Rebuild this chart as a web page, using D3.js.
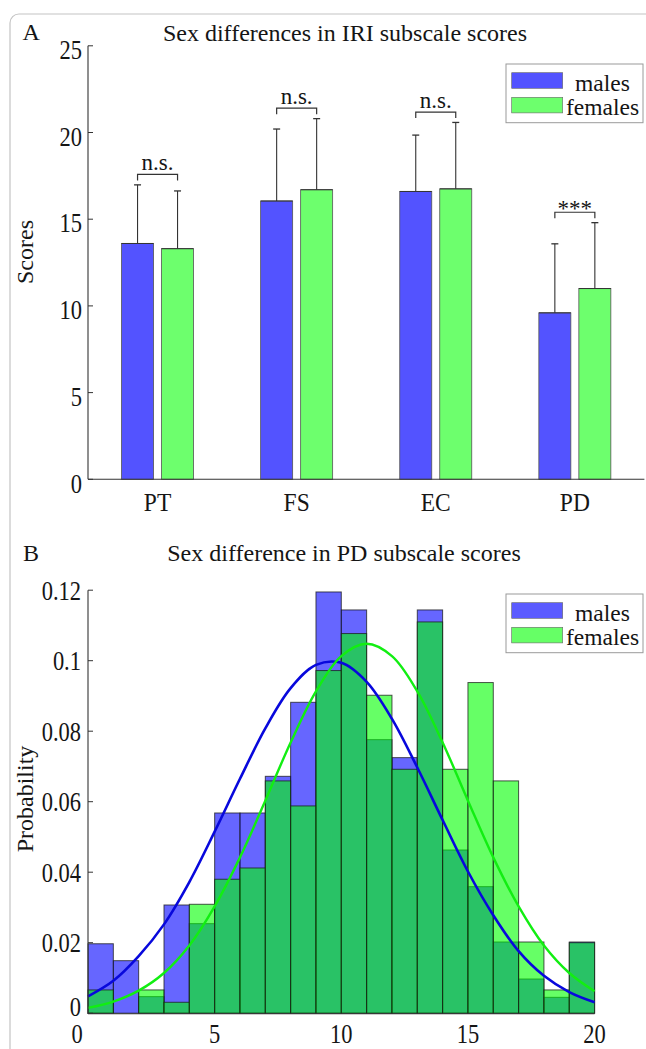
<!DOCTYPE html>
<html><head><meta charset="utf-8">
<script src="https://cdn.jsdelivr.net/npm/d3@7"></script>
<style>
body{margin:0;background:#fff}
svg{display:block}
text{font-family:"Liberation Serif","Times New Roman","DejaVu Serif",serif;fill:#151515}
</style>
</head><body>
<svg id="c" width="646" height="1049" font-family="Liberation Serif, serif"></svg>
<script>
// ---------- Panel A data ----------
const categories = ["PT", "FS", "EC", "PD"];
const groups = ["males", "females"];
const maleMeans = [13.6, 16.05, 16.6, 9.6];
const femaleMeans = [13.3, 16.7, 16.75, 11.0];
const maleSD = [3.38, 4.15, 3.25, 3.98];
const femaleSD = [3.33, 4.1, 3.83, 3.8];
const significance = ["n.s.", "n.s.", "n.s.", "***"];
const yTicksA = [0, 5, 10, 15, 20, 25];

// ---------- Panel B data ----------
const binStarts = [0,1,2,3,4,5,6,7,8,9,10,11,12,13,14,15,16,17,18,19];
const maleProb = [0.0197,0.0149,0.0047,0.0307,0.0254,0.0568,0.0568,0.0672,0.0882,0.1195,
                  0.1144,0.0776,0.0725,0.1144,0.0463,0.0359,0.0202,0.0097,0.0045,0.0202];
const femaleProb = [0.0066,0.0,0.0066,0.0031,0.0309,0.0380,0.0412,0.0659,0.0588,0.0972,
                    0.1077,0.0902,0.0692,0.1110,0.0692,0.0938,0.0659,0.0202,0.0066,0.0200];
const fitX = [0,1,2,3,4,5,6,7,8,9,10,11,12,13,14,15,16,17,18,19,20];
const maleFit = [0.0048,0.0092,0.0162,0.0252,0.0372,0.0515,0.0665,0.0808,0.0922,0.0988,0.0994,
                 0.0940,0.0835,0.0697,0.0548,0.0402,0.0278,0.0176,0.0106,0.0060,0.0031];
const femaleFit = [0.0015,0.0033,0.0064,0.0114,0.0192,0.0303,0.0442,0.0603,0.0768,0.0913,0.1013,
                   0.1048,0.1013,0.0913,0.0768,0.0603,0.0442,0.0303,0.0192,0.0114,0.0062];
const xTicksB = [0, 5, 10, 15, 20];
const yTicksB = [0, 0.02, 0.04, 0.06, 0.08, 0.1, 0.12];

const svg = d3.select("#c");
const axisColor = "#333";
const serif = "Liberation Serif, Times New Roman, serif";

// figure frame
svg.append("rect").attr("x", 10).attr("y", 14).attr("width", 720).attr("height", 1100)
  .attr("rx", 9).attr("fill", "none").attr("stroke", "#c4c4c4").attr("stroke-width", 1.2);

function label(g, x, y, txt, anchor, size, sy) {
  return g.append("text")
    .attr("transform", `translate(${x},${y}) scale(1,${sy})`)
    .attr("text-anchor", anchor).attr("dominant-baseline", "central")
    .attr("font-family", serif)
    .attr("font-size", size).text(txt);
}

function legend(g, x0, y0, colors) {
  g.append("rect").attr("x", x0).attr("y", y0).attr("width", 137).attr("height", 58.7)
    .attr("fill", "#fff").attr("stroke", "#9a9a9a").attr("stroke-width", 1);
  groups.forEach((name, i) => {
    g.append("rect").attr("x", x0 + 5.7).attr("y", y0 + 8.7 + i * 24.6)
      .attr("width", 51).attr("height", 15.6).attr("fill", colors[i])
      .attr("stroke", "#666").attr("stroke-width", 0.6);
    g.append("text").attr("x", x0 + 96.5).attr("y", y0 + 26.7 + i * 24.3)
      .attr("text-anchor", "middle").attr("font-family", serif)
      .attr("font-size", 23.5).text(name);
  });
}

// ================= Panel A =================
{
  const g = svg.append("g");
  const yA = d3.scaleLinear().domain([0, 25]).range([479.3, 45.8]);
  const xA = d3.scaleBand().domain(categories).range([88, 644.4]);
  const xSub = d3.scaleBand().domain(groups).range([-36, 36]).paddingInner(0.2);
  const colorsA = ["#5353ff", "#6dff6d"];
  const center = c => xA(c) + xA.bandwidth() / 2;

  const rows = categories.map((c, i) => ({
    c, vals: [
      { g: "males", m: maleMeans[i], sd: maleSD[i], col: colorsA[0] },
      { g: "females", m: femaleMeans[i], sd: femaleSD[i], col: colorsA[1] }
    ], sig: significance[i]
  }));

  rows.forEach(r => {
    r.vals.forEach(v => {
      const bx = center(r.c) + xSub(v.g);
      const bw = xSub.bandwidth();
      g.append("rect").attr("x", bx).attr("y", yA(v.m)).attr("width", bw)
        .attr("height", yA(0) - yA(v.m)).attr("fill", v.col)
        .attr("stroke", "#555").attr("stroke-width", 0.8);
      const cx = bx + bw / 2;
      g.append("line").attr("x1", cx).attr("x2", cx).attr("y1", yA(v.m)).attr("y2", yA(v.m + v.sd))
        .attr("stroke", axisColor).attr("stroke-width", 1.1);
      g.append("line").attr("x1", cx - 3.5).attr("x2", cx + 3.5)
        .attr("y1", yA(v.m + v.sd)).attr("y2", yA(v.m + v.sd))
        .attr("stroke", axisColor).attr("stroke-width", 1.3);
      g.append("line").attr("x1", bx).attr("x2", bx + bw).attr("y1", yA(v.m)).attr("y2", yA(v.m))
        .attr("stroke", "#333").attr("stroke-width", 1);
    });
    // significance bracket
    const x1 = center(r.c) + xSub("males") + xSub.bandwidth() / 2;
    const x2 = center(r.c) + xSub("females") + xSub.bandwidth() / 2;
    const top = d3.max(r.vals, v => v.m + v.sd) + 0.6;
    const yb = yA(top);
    g.append("path").attr("d", `M${x1},${yb + 6}V${yb}H${x2}V${yb + 6}`)
      .attr("fill", "none").attr("stroke", axisColor).attr("stroke-width", 1.2);
    g.append("text").attr("x", (x1 + x2) / 2).attr("y", r.sig === "***" ? yb + 4 : yb - 4)
      .attr("text-anchor", "middle").attr("font-family", serif)
      .attr("font-size", 23).text(r.sig);
  });

  // axes
  g.append("line").attr("x1", 88).attr("x2", 88).attr("y1", yA(25)).attr("y2", yA(0))
    .attr("stroke", axisColor).attr("stroke-width", 1.1);
  g.append("line").attr("x1", 88).attr("x2", 644.4).attr("y1", yA(0)).attr("y2", yA(0))
    .attr("stroke", axisColor).attr("stroke-width", 1.1);
  yTicksA.forEach(t => {
    g.append("line").attr("x1", 88).attr("x2", 93).attr("y1", yA(t)).attr("y2", yA(t))
      .attr("stroke", axisColor).attr("stroke-width", 1);
    label(g, 82, yA(t) + 4, String(t), "end", 22.5, 1.2);
  });
  categories.forEach(c => label(g, center(c), 502, c, "middle", 23.5, 1.1));

  g.append("text").attr("x", 345).attr("y", 40.5).attr("text-anchor", "middle")
    .attr("font-family", serif).attr("font-size", 24).text("Sex differences in IRI subscale scores");
  g.append("text").attr("x", 22.5).attr("y", 39.5).attr("font-family", serif)
    .attr("font-size", 24).text("A");
  g.append("text").attr("transform", "translate(33,252) rotate(-90)")
    .attr("text-anchor", "middle").attr("font-family", serif).attr("font-size", 24).text("Scores");

  legend(g, 506, 64, colorsA);
}

// ================= Panel B =================
{
  const g = svg.append("g");
  const xB = d3.scaleLinear().domain([0, 20]).range([88, 594.6]);
  const yB = d3.scaleLinear().domain([0, 0.12]).range([1013.2, 590.2]);

  const drawHist = (vals, color) => {
    g.append("g").selectAll("rect").data(binStarts).join("rect")
      .attr("x", d => xB(d)).attr("width", d => xB(d + 1) - xB(d))
      .attr("y", (d, i) => yB(vals[i])).attr("height", (d, i) => yB(0) - yB(vals[i]))
      .attr("fill", color).attr("fill-opacity", 0.6)
      .attr("stroke", "#1a1a1a").attr("stroke-opacity", 0.75).attr("stroke-width", 1);
  };
  drawHist(maleProb, "#0000ff");
  drawHist(femaleProb, "#00ff00");

  const line = d3.line().x((d, i) => xB(fitX[i])).y(d => yB(d)).curve(d3.curveCatmullRom);
  g.append("path").attr("d", line(maleFit)).attr("fill", "none")
    .attr("stroke", "#0808dc").attr("stroke-width", 2.6);
  g.append("path").attr("d", line(femaleFit)).attr("fill", "none")
    .attr("stroke", "#12ee12").attr("stroke-width", 2.4);

  // axes
  g.append("line").attr("x1", 88).attr("x2", 88).attr("y1", yB(0.12)).attr("y2", yB(0) + 0.8)
    .attr("stroke", axisColor).attr("stroke-width", 1.1);
  g.append("line").attr("x1", 88).attr("x2", xB(20)).attr("y1", yB(0) + 0.5).attr("y2", yB(0) + 0.5)
    .attr("stroke", axisColor).attr("stroke-width", 1.1);
  yTicksB.forEach(t => {
    g.append("line").attr("x1", 88).attr("x2", 93).attr("y1", yB(t)).attr("y2", yB(t))
      .attr("stroke", axisColor).attr("stroke-width", 1);
    label(g, 81, yB(t) + (t === 0 ? -6 : 0.5), t === 0 ? "0" : String(t), "end", 22.5, 1.2);
  });
  xTicksB.forEach(t => {
    label(g, xB(t) + (t === 0 ? -11 : 0), 1034, String(t), "middle", 22.5, 1.2);
  });

  g.append("text").attr("x", 344).attr("y", 561).attr("text-anchor", "middle")
    .attr("font-family", serif).attr("font-size", 24).text("Sex difference in PD subscale scores");
  g.append("text").attr("x", 23).attr("y", 561).attr("font-family", serif)
    .attr("font-size", 24).text("B");
  g.append("text").attr("transform", "translate(33,799) rotate(-90)")
    .attr("text-anchor", "middle").attr("font-family", serif).attr("font-size", 24).text("Probability");

  legend(g, 506, 594, ["#5b5bff", "#66ff66"]);
}
</script>
</body></html>
